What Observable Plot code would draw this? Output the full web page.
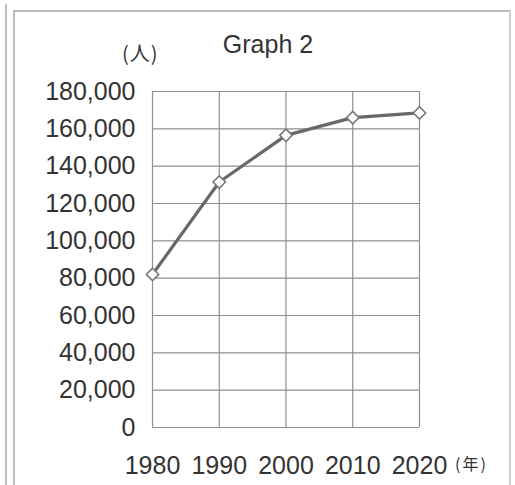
<!DOCTYPE html>
<html>
<head>
<meta charset="utf-8">
<script src="https://cdn.jsdelivr.net/npm/d3@7"></script>
<script src="https://cdn.jsdelivr.net/npm/@observablehq/plot@0.6"></script>
<style>
  html, body { margin: 0; padding: 0; background: #fff; }
  #wrap { position: relative; width: 515px; height: 485px; overflow: hidden; font-family: "Liberation Sans", Arial, sans-serif; color: #333; }
  .ln { position: absolute; background: #bdbdbd; }
  .lbl { position: absolute; white-space: nowrap; color: #333; line-height: 1; }
  #chart { position: absolute; left: 0; top: 0; }
</style>
</head>
<body>
<div id="wrap">
  <div class="ln" style="left:5px; top:4px; width:2px; height:481px;"></div>
  <div class="ln" style="left:13px; top:10px; width:2px; height:475px;"></div>
  <div class="ln" style="left:13px; top:10px; width:498px; height:2px;"></div>
  <div class="ln" style="left:509px; top:10px; width:2px; height:475px; background:#d0d0d0;"></div>
  <div id="chart"></div>
  <div class="lbl" id="title" style="left:0; width:536px; text-align:center; top:32px; font-size:25px;">Graph 2</div>
  <div class="lbl" style="left:122px; top:43px; font-size:20px; letter-spacing:1px; font-family:'Noto Sans CJK JP', sans-serif;">(人)</div>
  <div class="lbl" style="left:455px; top:455px; font-size:16px; letter-spacing:2px; font-family:'Noto Sans CJK JP', sans-serif;">(年)</div>
</div>
<script>
const years = [1980, 1990, 2000, 2010, 2020];
const population = [82000, 131500, 156500, 166000, 168500];
const yTicks = [0, 20000, 40000, 60000, 80000, 100000, 120000, 140000, 160000, 180000];

const data = years.map((y, i) => ({ year: y, value: population[i] }));
const fmt = d3.format(",");

const chart = Plot.plot({
  width: 515,
  height: 485,
  marginLeft: 152,
  marginRight: 96,
  marginTop: 91,
  marginBottom: 58,
  style: { fontFamily: "'Liberation Sans', Arial, sans-serif", fontSize: "25px", color: "#333", background: "transparent", overflow: "visible" },
  x: { domain: [1980, 2020], ticks: years, tickFormat: d => String(d), label: null },
  y: { domain: [0, 180000], ticks: yTicks, tickFormat: fmt, label: null },
  marks: [
    Plot.gridX(years, { stroke: "#8f8f8f", strokeOpacity: 1, strokeWidth: 1.2 }),
    Plot.gridY(yTicks, { stroke: "#8f8f8f", strokeOpacity: 1, strokeWidth: 1.2 }),
    Plot.axisY(yTicks, { tickSize: 0, tickPadding: 17, tickFormat: fmt, label: null, fontSize: 25, fill: "#333" }),
    Plot.axisX(years, { tickSize: 0, tickPadding: 29, tickFormat: d => String(d), label: null, fontSize: 25, fill: "#333" }),
    Plot.line(data, { x: "year", y: "value", stroke: "#686868", strokeWidth: 3.2 }),
    Plot.dot(data, { x: "year", y: "value", symbol: "diamond2", r: 5.6, fill: "#fff", stroke: "#7a7a7a", strokeWidth: 1.6 })
  ]
});
document.getElementById("chart").appendChild(chart);
</script>
</body>
</html>
